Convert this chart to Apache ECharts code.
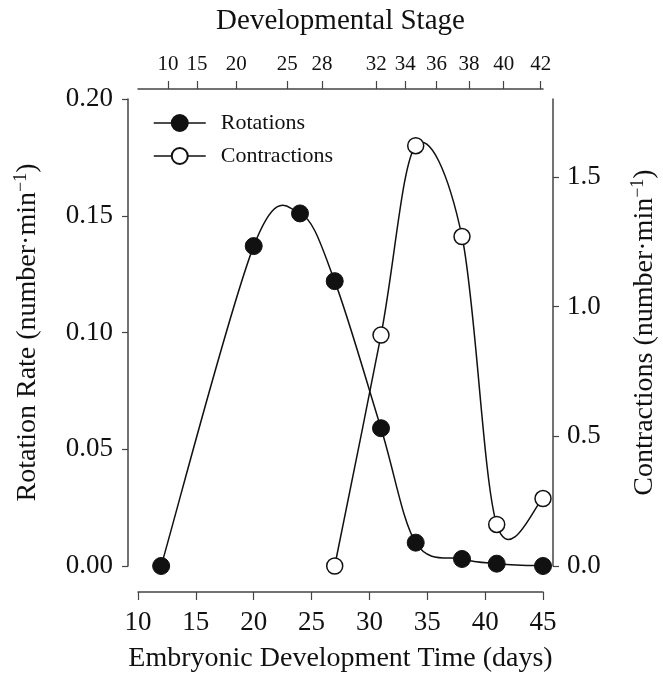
<!DOCTYPE html>
<html>
<head>
<meta charset="utf-8">
<script src="https://cdn.jsdelivr.net/npm/echarts@6/dist/echarts.min.js"></script>
<style>html,body{margin:0;padding:0;background:#fff}#c{width:663px;height:675px}</style>
</head>
<body>
<div id="c"></div>
<script>
// Data
const days = [12, 20, 24, 27, 31, 34, 38, 41, 45];
const rotations = [0.000, 0.137, 0.151, 0.122, 0.059, 0.010, 0.003, 0.001, 0.000];
const contractionDays = [27, 31, 34, 38, 41, 45];
const contractions = [0.00, 0.89, 1.62, 1.27, 0.16, 0.26];
const stageLabels = ['10', '15', '20', '25', '28', '32', '34', '36', '38', '40', '42'];
const stageDays = [12.6, 15.1, 18.5, 22.9, 25.9, 30.6, 33.1, 35.8, 38.6, 41.6, 44.8];
const leftTicks = [0, 0.05, 0.10, 0.15, 0.20];
const rightTicks = [0, 0.5, 1.0, 1.5];

const FONT = 'Liberation Serif';
const AX = '#444';
const INK = '#111';

// Uniform Catmull-Rom curve through the projected points, as bezier segments
function catmullSegments(P) {
  const n = P.length;
  const segs = [];
  for (let i = 0; i < n - 1; i++) {
    const p0 = P[Math.max(i - 1, 0)];
    const p1 = P[i];
    const p2 = P[i + 1];
    const p3 = P[Math.min(i + 2, n - 1)];
    segs.push({
      x1: p1[0], y1: p1[1], x2: p2[0], y2: p2[1],
      cpx1: p1[0] + (p2[0] - p0[0]) / 6, cpy1: p1[1] + (p2[1] - p0[1]) / 6,
      cpx2: p2[0] - (p3[0] - p1[0]) / 6, cpy2: p2[1] - (p3[1] - p1[1]) / 6
    });
  }
  return segs;
}

function curveRenderer(xArr, yArr) {
  return function (params, api) {
    if (params.dataIndex !== 0) return null;
    const pts = xArr.map((x, i) => api.coord([x, yArr[i]]));
    return {
      type: 'group',
      children: catmullSegments(pts).map(s => ({
        type: 'bezierCurve',
        shape: s,
        style: {stroke: INK, lineWidth: 1.5, fill: null}
      }))
    };
  };
}

const chart = echarts.init(document.getElementById('c'), null, {renderer: 'canvas'});
chart.setOption({
  backgroundColor: '#fff',
  animation: false,
  textStyle: {fontFamily: FONT, color: INK},
  grid: {left: 138, right: 120, top: 99, bottom: 109, containLabel: false, outerBoundsMode: 'none'},
  legend: {
    left: 148, top: 107, orient: 'vertical',
    itemWidth: 52, itemHeight: 20, itemGap: 11,
    lineStyle: {color: INK, width: 1.5, opacity: 1, type: 'solid'},
    textStyle: {fontFamily: FONT, fontSize: 22, color: INK, lineHeight: 22, padding: [0, 0, 0, 10]},
    data: ['Rotations', 'Contractions']
  },
  xAxis: [
    {
      type: 'value', min: 10, max: 45, interval: 5, position: 'bottom', offset: 26,
      name: 'Embryonic Development Time (days)', nameLocation: 'middle', nameGap: 53,
      nameTextStyle: {fontFamily: FONT, fontSize: 28, color: INK},
      axisLine: {show: true, onZero: false, lineStyle: {color: AX, width: 1.5}},
      axisTick: {show: true, length: 8, lineStyle: {color: AX, width: 1.2}},
      axisLabel: {fontFamily: FONT, fontSize: 27, color: INK, margin: 17},
      splitLine: {show: false}
    },
    {
      type: 'value', min: 10, max: 45, position: 'top', offset: 10,
      name: 'Developmental Stage', nameLocation: 'middle', nameGap: 53,
      nameTextStyle: {fontFamily: FONT, fontSize: 29, color: INK},
      axisLine: {show: true, onZero: false, lineStyle: {color: AX, width: 1.5}},
      axisTick: {show: true, length: 8, customValues: stageDays, lineStyle: {color: AX, width: 1.2}},
      axisLabel: {
        fontFamily: FONT, fontSize: 21, color: INK, margin: 14,
        customValues: stageDays,
        formatter: function (v) {
          let best = 0;
          for (let i = 0; i < stageDays.length; i++) {
            if (Math.abs(stageDays[i] - v) < Math.abs(stageDays[best] - v)) best = i;
          }
          return stageLabels[best];
        }
      },
      splitLine: {show: false}
    }
  ],
  yAxis: [
    {
      type: 'value', min: 0, max: 0.20, position: 'left', offset: 10,
      name: 'Rotation Rate (number·min{s|−1})', nameLocation: 'middle', nameGap: 84, nameRotate: 90,
      nameTextStyle: {fontFamily: FONT, fontSize: 28, color: INK, lineHeight: 32,
        rich: {s: {fontFamily: FONT, fontSize: 18, lineHeight: 18, verticalAlign: 'top', color: INK}}},
      axisLine: {show: true, onZero: false, lineStyle: {color: AX, width: 1.5}},
      axisTick: {show: true, length: 6, customValues: leftTicks, lineStyle: {color: AX, width: 1.2}},
      axisLabel: {fontFamily: FONT, fontSize: 27, color: INK, margin: 15, customValues: leftTicks,
        formatter: function (v) { return v.toFixed(2); }},
      splitLine: {show: false}
    },
    {
      type: 'value', min: 0, max: 1.8, position: 'right', offset: 10,
      name: 'Contractions (number·min{s|−1})', nameLocation: 'middle', nameGap: 76, nameRotate: 90,
      nameTextStyle: {fontFamily: FONT, fontSize: 28, color: INK, lineHeight: 32,
        rich: {s: {fontFamily: FONT, fontSize: 18, lineHeight: 18, verticalAlign: 'top', color: INK}}},
      axisLine: {show: true, onZero: false, lineStyle: {color: AX, width: 1.5}},
      axisTick: {show: true, length: 6, customValues: rightTicks, lineStyle: {color: AX, width: 1.2}},
      axisLabel: {fontFamily: FONT, fontSize: 27, color: INK, margin: 14, customValues: rightTicks,
        formatter: function (v) { return v.toFixed(1); }},
      splitLine: {show: false}
    }
  ],
  series: [
    {
      name: 'rotCurve', type: 'custom', xAxisIndex: 0, yAxisIndex: 0,
      data: days.map((d, i) => [d, rotations[i]]),
      renderItem: curveRenderer(days, rotations), clip: false, silent: true, z: 1
    },
    {
      name: 'conCurve', type: 'custom', xAxisIndex: 0, yAxisIndex: 1,
      data: contractionDays.map((d, i) => [d, contractions[i]]),
      renderItem: curveRenderer(contractionDays, contractions), clip: false, silent: true, z: 1
    },
    {
      name: 'Rotations', type: 'line', xAxisIndex: 0, yAxisIndex: 0,
      data: days.map((d, i) => [d, rotations[i]]),
      clip: false,
      symbol: 'circle', symbolSize: 17,
      lineStyle: {color: INK, width: 1.5, opacity: 0},
      itemStyle: {color: INK, borderColor: INK, borderWidth: 1},
      z: 3
    },
    {
      name: 'Contractions', type: 'line', xAxisIndex: 0, yAxisIndex: 1,
      data: contractionDays.map((d, i) => [d, contractions[i]]),
      clip: false,
      symbol: 'circle', symbolSize: 16,
      lineStyle: {color: INK, width: 1.5, opacity: 0},
      itemStyle: {color: '#fff', borderColor: INK, borderWidth: 1.5},
      z: 4
    }
  ]
});
</script>
</body>
</html>
